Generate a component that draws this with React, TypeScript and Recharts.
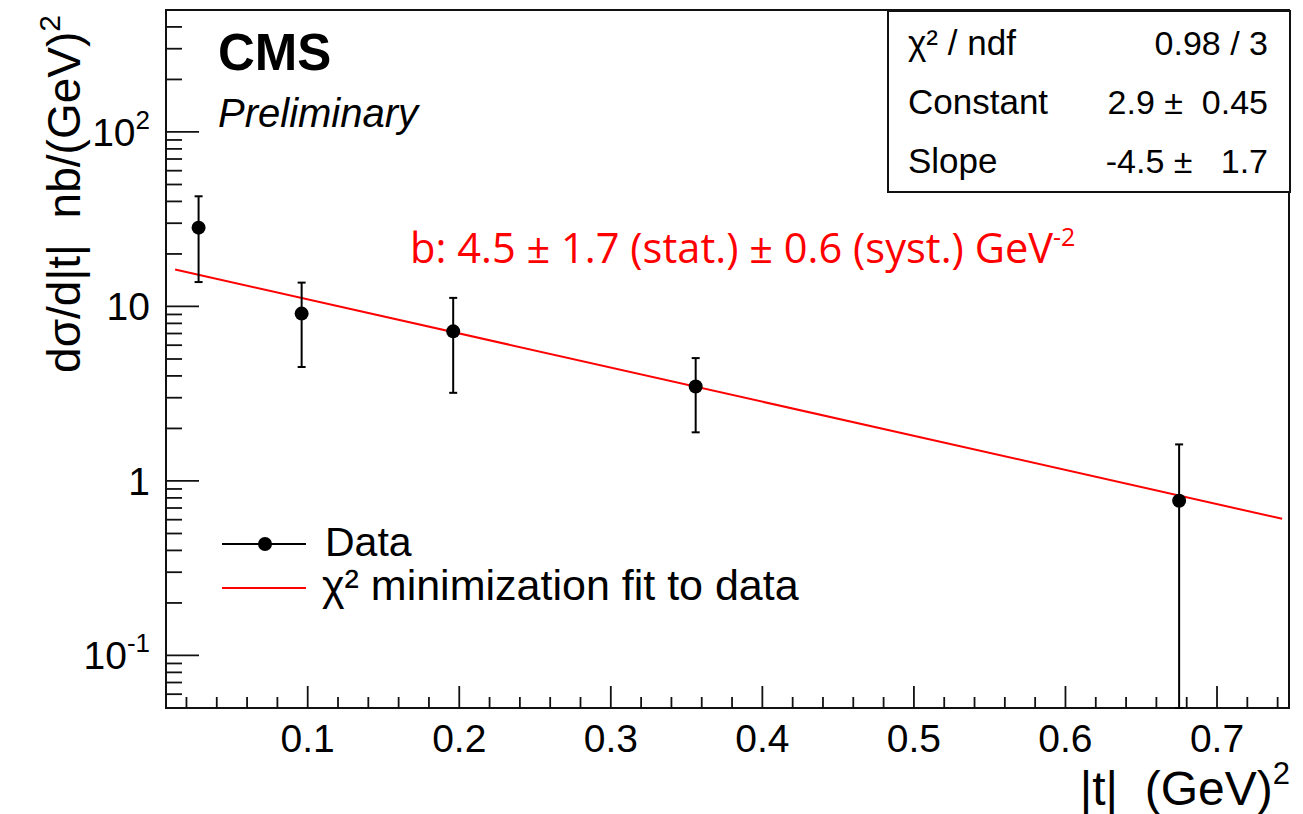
import {
  ComposedChart,
  Scatter,
  Line,
  XAxis,
  YAxis,
  ErrorBar,
  ReferenceArea,
} from "recharts";

// measured points: |t| (GeV^2) vs dsigma/d|t| (nb/GeV^2)
const tValues = [0.028, 0.096, 0.196, 0.356, 0.675];
const dsdt = [28.3, 9.1, 7.2, 3.48, 0.77];
const statErr = [14.5, 4.6, 4.0, 1.58, 0.85];

// exponential fit, end points of the drawn curve
const fitT = [0.0125, 0.743];
const fitY = [16.3, 0.607];

const xTicksMajor = [0.1, 0.2, 0.3, 0.4, 0.5, 0.6, 0.7];
const yTicksMajor = [0.1, 1, 10, 100];
const yTickBase = ["10", "1", "10", "10"];
const yTickExp = ["-1", "", "", "2"];

const xDomain: [number, number] = [0.0065, 0.7475];
const yDomain: [number, number] = [0.05, 500];

const statsRows = [
  { label: "χ² / ndf", value: "0.98 / 3" },
  { label: "Constant", value: "2.9 ±  0.45" },
  { label: "Slope", value: "-4.5 ±   1.7" },
];

const FONT = "'Liberation Sans', Arial, Helvetica, sans-serif";

const points = tValues.map((t, i) => {
  const lo = dsdt[i] - statErr[i] < yDomain[0] ? dsdt[i] - yDomain[0] : statErr[i];
  return { t, y: dsdt[i], err: [lo, statErr[i]] };
});
const fitData = fitT.map((t, i) => ({ t, y: fitY[i] }));

const xMinor: number[] = [];
for (let k = 1; k <= 37; k++) if (k % 5 !== 0) xMinor.push(+(k * 0.02).toFixed(2));
const yMinor: number[] = [];
[0.01, 0.1, 1, 10, 100].forEach((d) => {
  for (let m = 2; m <= 9; m++) {
    const v = +(m * d).toPrecision(3);
    if (v >= yDomain[0] && v <= yDomain[1]) yMinor.push(v);
  }
});

const isMajor = (list: number[], v: number) => list.some((m) => Math.abs(m - v) < 1e-6);

function XTick(props: any) {
  const { x, y, payload } = props;
  const major = isMajor(xTicksMajor, payload.value);
  return (
    <g>
      <line x1={x} x2={x} y1={y} y2={y - (major ? 22 : 11)} stroke="#111" strokeWidth={1.8} />
      {major && (
        <text x={x} y={y + 44} textAnchor="middle" fontSize={39} fontFamily={FONT} fill="#000">
          {payload.value.toFixed(1)}
        </text>
      )}
    </g>
  );
}

function YTick(props: any) {
  const { x, y, payload } = props;
  const idx = yTicksMajor.findIndex((m) => Math.abs(m - payload.value) / m < 1e-6);
  const major = idx >= 0;
  return (
    <g>
      <line x1={x} x2={x + (major ? 33 : 16)} y1={y} y2={y} stroke="#111" strokeWidth={1.8} />
      {major && (
        <text x={x - 16} y={y + 14} textAnchor="end" fontSize={39} fontFamily={FONT} fill="#000">
          {yTickBase[idx]}
          {yTickExp[idx] && (
            <tspan dy={-17} fontSize={26}>
              {yTickExp[idx]}
            </tspan>
          )}
        </text>
      )}
    </g>
  );
}

export default function App() {
  return (
    <div style={{ position: "absolute", left: 0, top: 0, width: 1303, height: 814, background: "#fff" }}>
      <ComposedChart width={1303} height={814} margin={{ top: 10, right: 14, bottom: 0, left: 0 }}>
        <XAxis
          dataKey="t"
          type="number"
          domain={xDomain}
          allowDataOverflow
          ticks={[...xMinor, ...xTicksMajor]}
          interval={0}
          tick={<XTick />}
          tickSize={0}
          tickMargin={0}
          tickLine={false}
          axisLine={false}
          height={106}
          padding={{ left: 0, right: 0 }}
        />
        <YAxis
          dataKey="y"
          type="number"
          scale="log"
          domain={yDomain}
          allowDataOverflow
          ticks={[...yMinor, ...yTicksMajor]}
          interval={0}
          tick={<YTick />}
          tickSize={0}
          tickMargin={0}
          tickLine={false}
          axisLine={false}
          width={166}
        />
        <ReferenceArea
          x1={xDomain[0]}
          x2={xDomain[1]}
          y1={yDomain[0]}
          y2={yDomain[1]}
          fill="none"
          stroke="#111"
          strokeWidth={2}
          ifOverflow="visible"
        />
        <Line
          data={fitData}
          dataKey="y"
          type="linear"
          stroke="#ff0000"
          strokeWidth={2}
          dot={false}
          isAnimationActive={false}
        />
        <Scatter
          data={points}
          dataKey="y"
          fill="#000"
          isAnimationActive={false}
          shape={(p: any) => <circle cx={p.cx} cy={p.cy} r={7} fill="#000" />}
        >
          <ErrorBar dataKey="err" direction="y" width={4} stroke="#000" strokeWidth={2} />
        </Scatter>
      </ComposedChart>

      <svg
        width={1303}
        height={814}
        style={{ position: "absolute", left: 0, top: 0, pointerEvents: "none" }}
        fontFamily={FONT}
      >
        <text x={218} y={70} fontSize={51} fontWeight="bold" fill="#000">
          CMS
        </text>
        <text x={218} y={127} fontSize={40} fontStyle="italic" fill="#000">
          Preliminary
        </text>

        <rect x={888} y={11} width={402} height={181} fill="#fff" stroke="#111" strokeWidth={2} />
        {statsRows.map((r, i) => (
          <g key={r.label}>
            <text x={908} y={55 + i * 59} fontSize={35} fill="#000" style={{ whiteSpace: "pre" }}>
              {r.label}
            </text>
            <text x={1268} y={55 + i * 59} fontSize={34} fill="#000" textAnchor="end" style={{ whiteSpace: "pre" }}>
              {r.value}
            </text>
          </g>
        ))}

        <text x={410} y={263} fontSize={41.6} fill="#ff0000" fontFamily="'Open Sans', 'Noto Sans', sans-serif">
          b: 4.5 ± 1.7 (stat.) ± 0.6 (syst.) GeV
          <tspan dy={-17} fontSize={25}>
            -2
          </tspan>
        </text>

        <line x1={222} x2={306} y1={544} y2={544} stroke="#000" strokeWidth={2} />
        <circle cx={265} cy={544} r={7} fill="#000" />
        <text x={325} y={556} fontSize={41} fill="#000">
          Data
        </text>
        <line x1={222} x2={306} y1={588} y2={588} stroke="#ff0000" strokeWidth={2} />
        <text x={322} y={600} fontSize={43} fill="#000">
          χ² minimization fit to data
        </text>

        <text
          transform="translate(80,194) rotate(-90)"
          textAnchor="middle"
          fontSize={46}
          fill="#000"
          style={{ whiteSpace: "pre" }}
        >
          {"dσ/d|t|  nb/(GeV)"}
          <tspan dy={-20} fontSize={30}>
            2
          </tspan>
        </text>

        <text x={1290} y={805} textAnchor="end" fontSize={48} fill="#000" style={{ whiteSpace: "pre" }}>
          {"|t|  (GeV)"}
          <tspan dy={-21} fontSize={31}>
            2
          </tspan>
        </text>
      </svg>
    </div>
  );
}
